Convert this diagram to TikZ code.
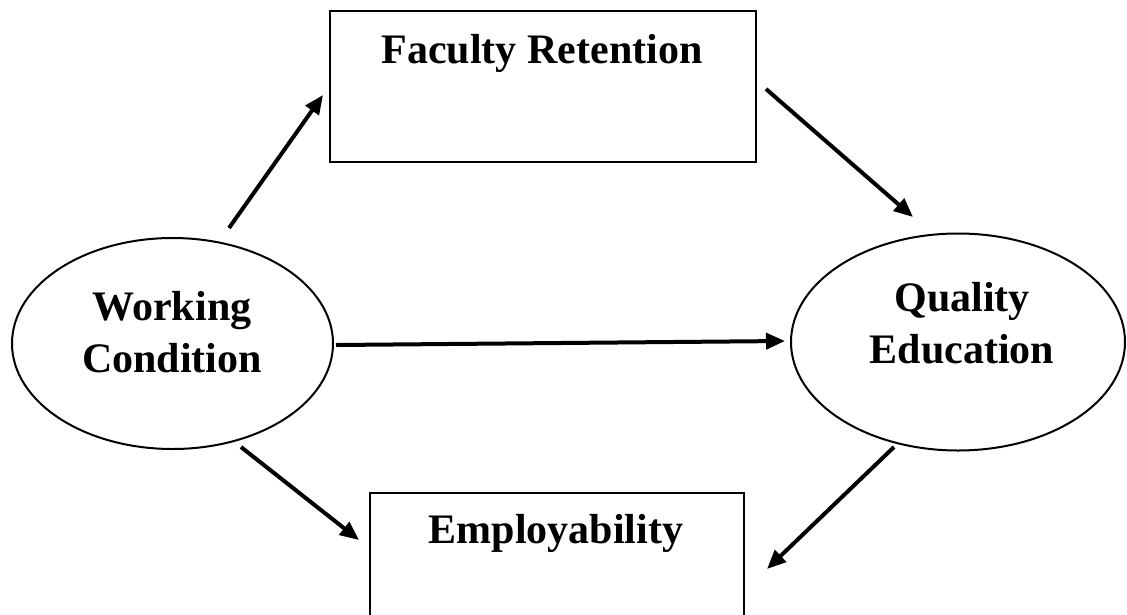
\documentclass[tikz,border=0pt]{standalone}
\usepackage{fontspec}
\setmainfont{Liberation Serif}
\usetikzlibrary{shapes.geometric,arrows.meta}
\tikzset{
  oval/.style={draw, ellipse, line width=2pt, inner sep=0pt},
  box/.style={draw, rectangle, line width=2.5pt, inner sep=0pt},
  lbl/.style={anchor=base, inner sep=0pt, font=\fontsize{42}{52}\selectfont\bfseries},
  link/.style={line width=4pt, -{Triangle[length=19pt,width=16pt]}}
}
\begin{document}
\begin{tikzpicture}[x=1pt, y=-1pt]
\useasboundingbox (0,0) rectangle (1127,614);
\clip (0,0) rectangle (1127,614);
% nodes
\node[oval, minimum width=321pt, minimum height=211pt] (wc) at (172.5,343.5) {};
\node[oval, minimum width=334pt, minimum height=217pt] (qe) at (958,342) {};
\node[box, minimum width=426pt, minimum height=151pt] (fr) at (543,86.5) {};
\node[box, minimum width=374pt, minimum height=151pt] (em) at (557,568.5) {};
% labels
\node[lbl] (wct1) at (172,320) {Working};
\node[lbl] (wct2) at (172,372) {Condition};
\node[lbl] (qet1) at (962,311) {Quality};
\node[lbl] (qet2) at (962,363) {Education};
\node[lbl] (frt) at (542,63) {Faculty Retention};
\node[lbl] (emt) at (556,543) {Employability};
% connector ends
\coordinate (a1) at (229,228);
\coordinate (b1) at (323,95);
\coordinate (a2) at (766,89);
\coordinate (b2) at (913,217);
\coordinate (a3) at (336,345);
\coordinate (b3) at (785,341);
\coordinate (a4) at (241,447);
\coordinate (b4) at (359,540);
\coordinate (a5) at (894,447);
\coordinate (b5) at (767,569);
% connectors
\draw[link] (a1) -- (b1);
\draw[link] (a2) -- (b2);
\draw[link] (a3) -- (b3);
\draw[link] (a4) -- (b4);
\draw[link] (a5) -- (b5);
\end{tikzpicture}
\end{document}
